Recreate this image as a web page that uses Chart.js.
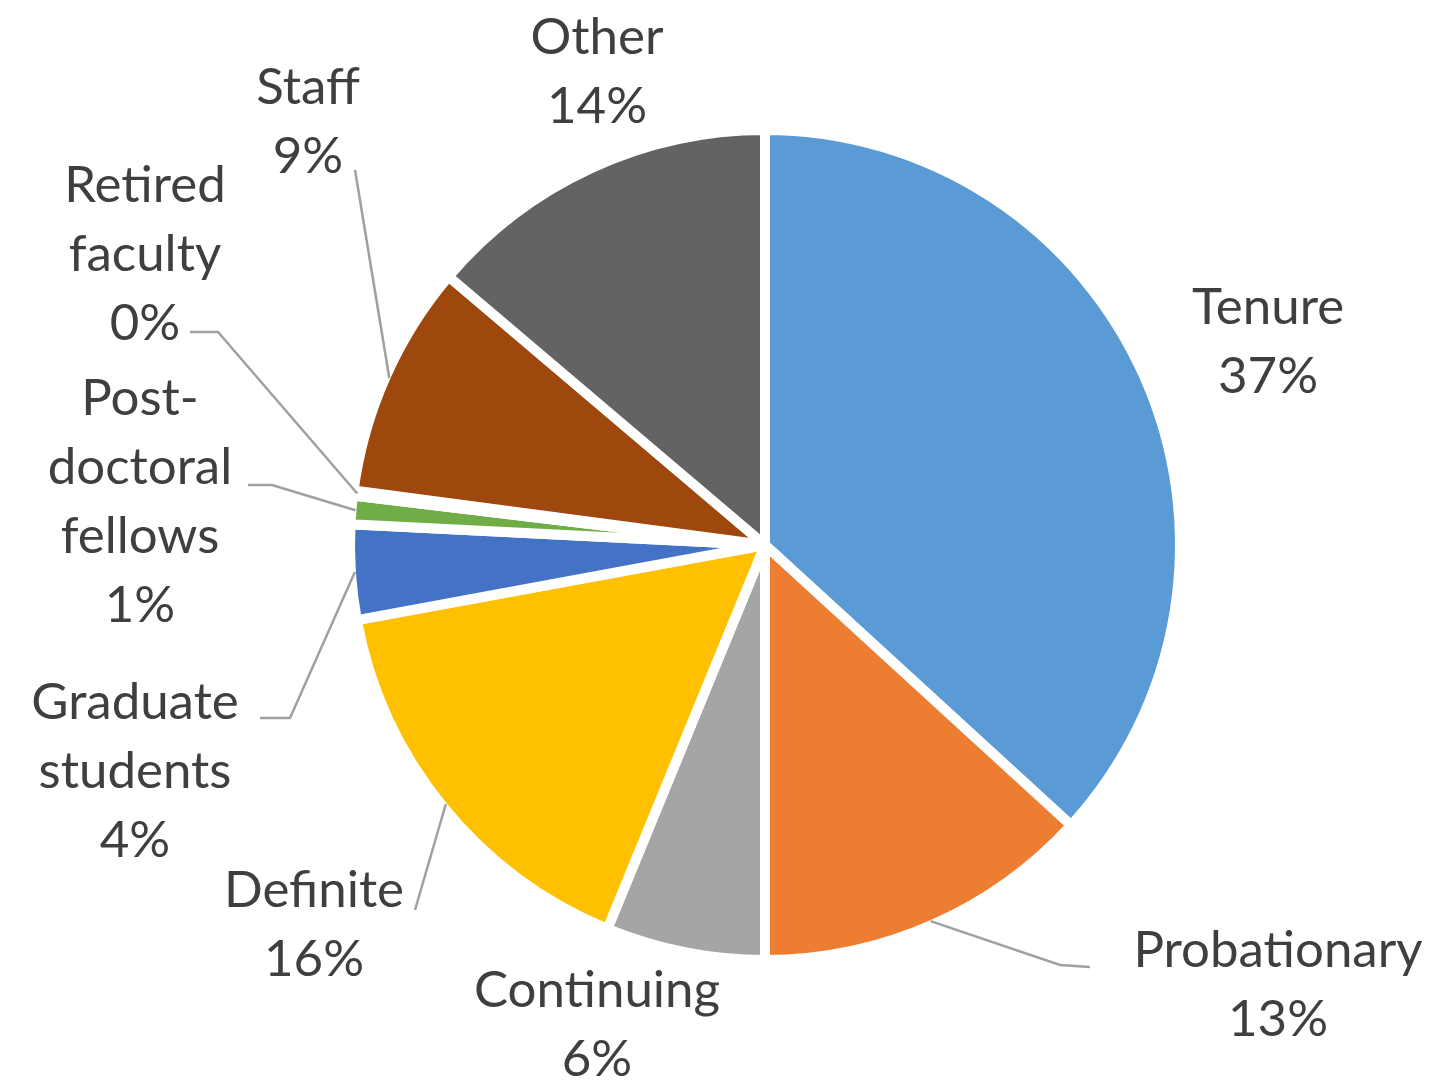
<!DOCTYPE html>
<html>
<head>
<meta charset="utf-8">
<script src="https://cdn.jsdelivr.net/npm/chart.js@4.4.0/dist/chart.umd.min.js"></script>
<style>
  html, body { margin: 0; padding: 0; background: #ffffff; }
  #wrap { width: 1439px; height: 1081px; }
</style>
</head>
<body>
<div id="wrap"><canvas id="myChart"></canvas></div>
<script>
// categories (multi-line names as drawn) and their shares in percent
const categories = [
    ['Tenure'],
    ['Probationary'],
    ['Continuing'],
    ['Definite'],
    ['Graduate', 'students'],
    ['Post-', 'doctoral', 'fellows'],
    ['Retired', 'faculty'],
    ['Staff'],
    ['Other']
];
const shares = [36.8, 13.2, 6.2, 15.9, 3.7, 1.1, 0.2, 9.1, 13.8];

const sliceColors = ['#5B9BD5', '#ED7D31', '#A5A5A5', '#FFC000', '#4472C4', '#70AD47', '#255E91', '#9E480E', '#636363'];

// label placement, px offset from pie centre: text block centre, leader elbow, leader tail
const textPos = [[503, -203], [513, 440], [-168, 480], [-451, 380], [-630, 227], [-625, -43], [-620, -290], [-457, -423], [-168, -473]];
const leaderElbow = [null, [295, 420], null, [-350, 365], [-475, 173], [-493, -60], [-547, -213], [-410, -375], null];
const leaderTail = [null, [325, 422], null, [-350, 365], [-505, 173], [-517, -60], [-575, -213], [-410, -375], null];

const outsideLabels = {
    id: 'outsideLabels',
    afterDatasetsDraw(chart) {
        const ctx = chart.ctx;
        const arcs = chart.getDatasetMeta(0).data;
        const lineH = 69;
        ctx.save();
        arcs.forEach((arc, i) => {
            const cx = arc.x, cy = arc.y;
            // leader line from arc mid-angle on the rim
            if (leaderElbow[i]) {
                const mid = (arc.startAngle + arc.endAngle) / 2;
                const r = arc.outerRadius - 4;
                ctx.beginPath();
                ctx.moveTo(cx + Math.cos(mid) * r, cy + Math.sin(mid) * r);
                ctx.lineTo(cx + leaderElbow[i][0], cy + leaderElbow[i][1]);
                ctx.lineTo(cx + leaderTail[i][0], cy + leaderTail[i][1]);
                ctx.strokeStyle = '#A0A0A0';
                ctx.lineWidth = 2.5;
                ctx.stroke();
            }
            const lines = categories[i].concat([Math.round(shares[i]) + '%']);
            const top = cy + textPos[i][1] - (lines.length - 1) * lineH / 2;
            ctx.fillStyle = '#3F3F3F';
            ctx.font = '51px Lato';
            ctx.textAlign = 'center';
            ctx.textBaseline = 'middle';
            lines.forEach((t, k) => ctx.fillText(t, cx + textPos[i][0], top + k * lineH));
        });
        ctx.restore();
    }
};

const ctx = document.getElementById('myChart').getContext('2d');

new Chart(ctx, {
    type: 'pie',
    data: {
        labels: categories,
        datasets: [{
            data: shares,
            backgroundColor: sliceColors,
            borderColor: '#ffffff',
            borderWidth: 10
        }]
    },
    options: {
        responsive: true,
        maintainAspectRatio: false,
        animation: false,
        layout: {
            padding: { left: 91, right: 0, top: 125, bottom: 116 }
        },
        plugins: {
            legend: { display: false },
            tooltip: { enabled: false }
        }
    },
    plugins: [outsideLabels]
});
</script>
</body>
</html>
